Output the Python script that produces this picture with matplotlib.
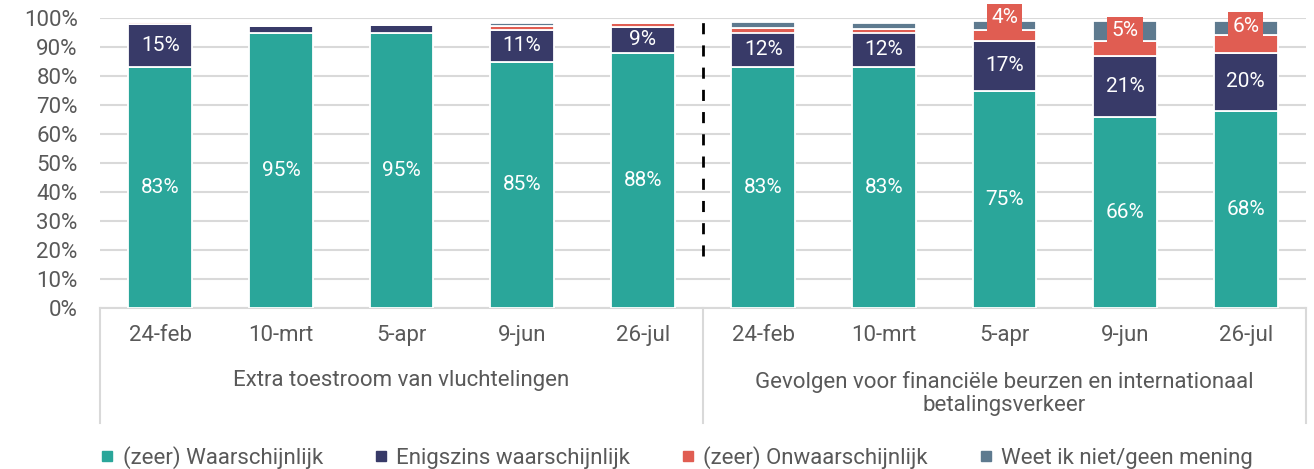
import matplotlib
matplotlib.use("Agg")
import matplotlib.pyplot as plt
import numpy as np

plt.rcParams['font.family'] = ['Roboto', 'DejaVu Sans']

dates = ['24-feb', '10-mrt', '5-apr', '9-jun', '26-jul'] * 2
groups = ['Extra toestroom van vluchtelingen',
          'Gevolgen voor financiële beurzen en internationaal\nbetalingsverkeer']
series = ['(zeer) Waarschijnlijk', 'Enigszins waarschijnlijk',
          '(zeer) Onwaarschijnlijk', 'Weet ik niet/geen mening']

waarschijnlijk = [83, 95, 95, 85, 88, 83, 83, 75, 66, 68]
enigszins = [15, 2.2, 2.5, 11, 9, 12, 12, 17, 21, 20]
onwaarschijnlijk = [0.6, 0, 0, 1.2, 1.2, 1.6, 1.2, 4, 5, 6]
weet_niet = [0, 0, 0, 1.2, 0, 2, 2, 3, 7, 5]

colors = ['#2aa69a', '#383a68', '#e05d52', '#5e7a8f']
txt = '#595959'

fig = plt.figure(figsize=(13.14, 4.69), dpi=100)
ax = fig.add_axes([100 / 1314, 1 - 308 / 469, 1206 / 1314, 290 / 469])

x = np.arange(len(dates))
bottom = np.zeros(len(dates))
data = [waarschijnlijk, enigszins, onwaarschijnlijk, weet_niet]
for i, (vals, col, name) in enumerate(zip(data, colors, series)):
    vals = np.array(vals, dtype=float)
    ax.bar(x, vals, 0.53, bottom=bottom, color=col, edgecolor='white',
           linewidth=1.3, label=name, zorder=3)
    for xi, b, v in zip(x, bottom, vals):
        if i in (0, 1) and v >= 9:
            ax.text(xi, b + v / 2, f'{v:.0f}%', ha='center', va='center',
                    color='white', fontsize=15, zorder=4)
        elif i == 2 and v >= 4:
            ax.annotate(f'{v:.0f}%', (xi, b + v / 2), xytext=(0, 13),
                        textcoords='offset points', ha='center', va='center',
                        color='white', fontsize=15, zorder=5,
                        annotation_clip=False,
                        bbox=dict(boxstyle='square,pad=0.2', fc=col, ec='none'))
    bottom += vals

ax.set_xlim(-0.5, len(dates) - 0.5)
ax.set_ylim(0, 100)
ax.set_yticks(np.arange(0, 101, 10))
ax.set_yticklabels([f'{v}%' for v in range(0, 101, 10)])
ax.yaxis.grid(True, color='#d9d9d9', linewidth=1.5, zorder=0)
ax.set_axisbelow(True)
for s in ['top', 'right', 'left']:
    ax.spines[s].set_visible(False)
ax.spines['bottom'].set_color('#d9d9d9')
ax.spines['bottom'].set_linewidth(1.5)
ax.tick_params(axis='y', length=0, labelsize=16, labelcolor=txt, pad=16)
ax.tick_params(axis='x', length=0, labelsize=16, labelcolor=txt, pad=12)
ax.set_xticks(x)
ax.set_xticklabels(dates)

# dashed separator between the two groups
ax.vlines(4.5, 18, 100, colors='black', linestyles=(0, (4, 4)), linewidth=2, zorder=4)

# group labels and separators below the axis
trans = ax.get_xaxis_transform()
for xs in [-0.5, 4.5, 9.5]:
    ax.plot([xs, xs], [0, -0.395], color='#d9d9d9', linewidth=1.5,
            transform=trans, clip_on=False)
ax.text(2, -0.25, groups[0], transform=trans, ha='center', va='center',
        fontsize=16, color=txt)
ax.text(7, -0.295, groups[1], transform=trans, ha='center', va='center',
        fontsize=16, color=txt, linespacing=1.15)

proxies = [plt.Line2D([], [], marker='s', ls='', markersize=7, color=c) for c in colors]
fig.legend(proxies, series, loc='center', bbox_to_anchor=(0.515, 0.025),
           ncol=4, frameon=False, fontsize=16, handlelength=0.6,
           handletextpad=0.4, columnspacing=2.3, labelcolor=txt)

fig.savefig('out.png', dpi=100)
